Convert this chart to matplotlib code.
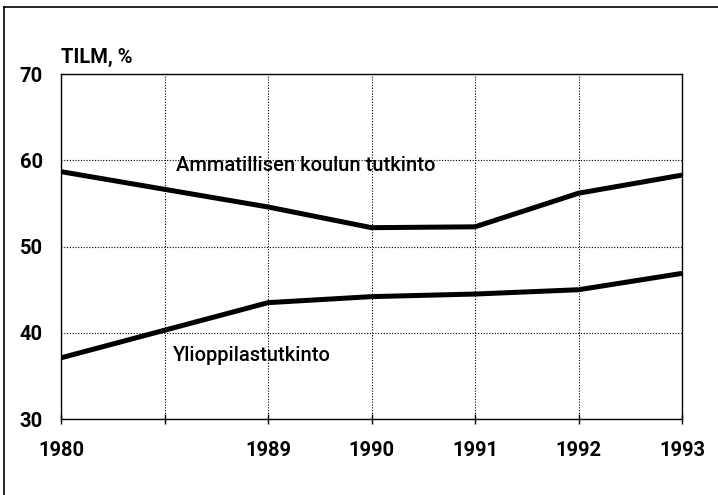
import matplotlib.pyplot as plt
from matplotlib.lines import Line2D

# x slots: 1980, (gap), 1989..1993
slots = [0, 1, 2, 3, 4, 5, 6]
slot_labels = ["1980", "", "1989", "1990", "1991", "1992", "1993"]

years_pos = [0, 2, 3, 4, 5, 6]
ammatillinen = [58.7, 54.6, 52.2, 52.3, 56.2, 58.3]
ylioppilas = [37.1, 43.5, 44.2, 44.5, 45.0, 46.9]

plt.rcParams['font.family'] = ['Roboto', 'DejaVu Sans']

fig = plt.figure(figsize=(7.18, 4.95), dpi=100)
ax = fig.add_axes([0.085, 0.1535, 0.865, 0.6965])

ax.plot(years_pos, ammatillinen, color="black", lw=3.6, solid_capstyle="butt")
ax.plot(years_pos, ylioppilas, color="black", lw=3.6, solid_capstyle="butt")

ax.set_xlim(0, 6)
ax.set_ylim(30, 70)
ax.set_xticks(slots)
ax.set_xticklabels(slot_labels)
ax.set_yticks([30, 40, 50, 60, 70])

ax.grid(True, color="black", ls=(0, (1, 1.5)), lw=0.8)
for s in ax.spines.values():
    s.set_linewidth(1.0)

ax.tick_params(axis="x", length=7, width=1, direction="inout", pad=12, labelsize=14.5)
ax.tick_params(axis="y", length=0, pad=13, labelsize=14.5)
for t in ax.get_xticklabels() + ax.get_yticklabels():
    t.set_fontweight("bold")

ax.text(0, 71.3, "TILM, %", fontsize=14.5, fontweight="bold", ha="left", va="baseline")
ax.text(1.11, 59.4, "Ammatillisen koulun tutkinto", fontsize=14.5, fontweight="medium",
        ha="left", va="center")
ax.text(1.08, 37.4, "Ylioppilastutkinto", fontsize=14.5, fontweight="medium",
        ha="left", va="center")

# page frame (top and left edges)
fig.add_artist(Line2D([0.006, 0.006], [0.0, 0.986], transform=fig.transFigure, color="black", lw=1.2))
fig.add_artist(Line2D([0.006, 1.0], [0.986, 0.986], transform=fig.transFigure, color="black", lw=1.2))

fig.savefig("out.png", dpi=100)
